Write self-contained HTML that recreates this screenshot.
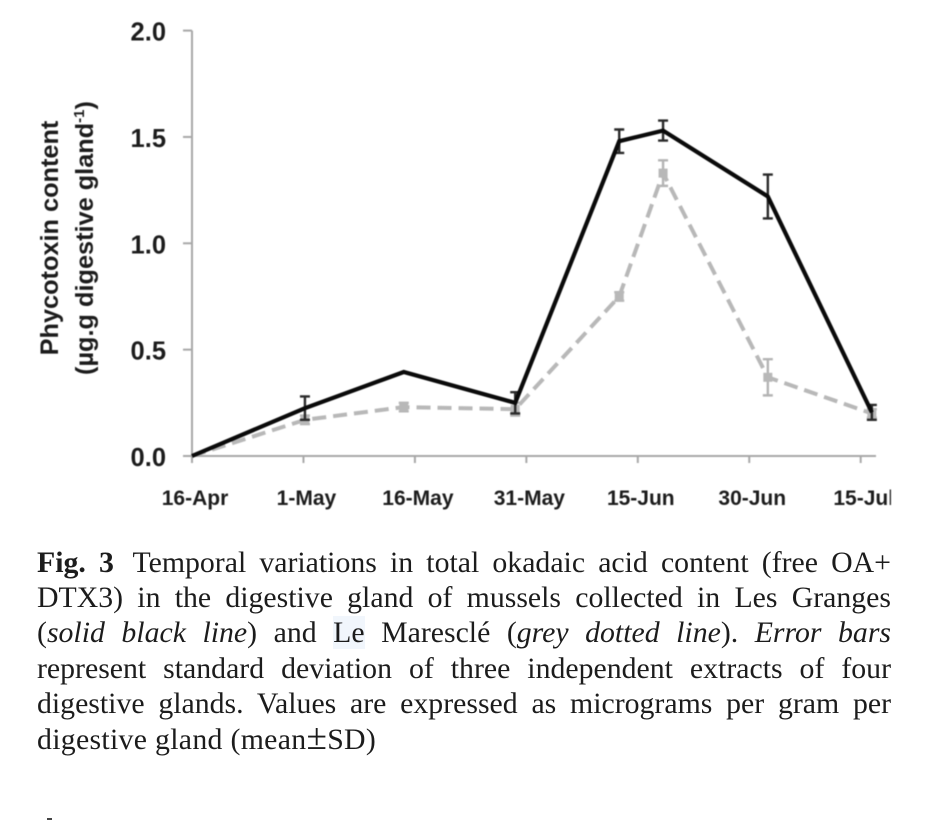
<!DOCTYPE html>
<html lang="en">
<head>
<meta charset="utf-8">
<title>Fig. 3 Phycotoxin content</title>
<style>
html,body{margin:0;padding:0;background:#fff;}
#page{position:relative;width:944px;height:820px;overflow:hidden;background:#fff;}
#chart{position:absolute;left:0;top:0;filter:blur(.45px);}
#chart text{font-family:"Liberation Sans",sans-serif;font-weight:bold;fill:#1c1c1c;}
.line{position:absolute;left:37px;width:854px;height:36px;line-height:36px;font-family:"Liberation Serif",serif;font-size:29.8px;color:#1c1c1c;text-align:justify;text-align-last:justify;white-space:nowrap;filter:blur(.3px);}
.last{text-align-last:left;letter-spacing:.3px;}
.hl{background:#f1f6fc;}
.pm{font-size:1.25em;line-height:1;}
.fig{margin-right:6px;}
#fragment{position:absolute;left:47px;top:818px;width:5px;height:2px;background:#444;}
</style>
</head>
<body>
<div id="page">
<svg id="chart" width="891" height="530" viewBox="0 0 891 530" xmlns="http://www.w3.org/2000/svg"></svg>
<div>
<div class="line" style="top:545px"><b class="fig">Fig. 3</b> Temporal variations in total okadaic acid content (free OA+</div>
<div class="line" style="top:580px">DTX3) in the digestive gland of mussels collected in Les Granges</div>
<div class="line" style="top:615px">(<i>solid black line</i>) and <span class="hl">Le</span> Maresclé (<i>grey dotted line</i>). <i>Error bars</i></div>
<div class="line" style="top:651px">represent standard deviation of three independent extracts of four</div>
<div class="line" style="top:686px">digestive glands. Values are expressed as micrograms per gram per</div>
<div class="line last" style="top:719px">digestive gland (mean<span class="pm">±</span>SD)</div>
</div>
<div id="fragment"></div>
</div>
<script>
const yTicks = [0, 0.5, 1, 1.5, 2];
const yTickLabels = ["0.0", "0.5", "1.0", "1.5", "2.0"];
const xTicks = [0, 15, 30, 45, 60, 75, 90];
const xTickLabels = ["16-Apr", "1-May", "16-May", "31-May", "15-Jun", "30-Jun", "15-Jul"];
const sampleDays = [0, 15.2, 28.5, 43.5, 57.5, 63.4, 77.5, 91.5];
const blackValues = [0, 0.225, 0.395, 0.25, 1.48, 1.53, 1.22, 0.205];
const blackErrors = [0, 0.055, 0, 0.05, 0.055, 0.047, 0.103, 0.035];
const greyValues = [0, 0.17, 0.23, 0.22, 0.75, 1.33, 0.37, 0.2];
const greyErrors = [0, 0.02, 0.02, 0.03, 0.02, 0.06, 0.085, 0.02];

const svg = document.getElementById('chart');
const NS = 'http://www.w3.org/2000/svg';
const xScale = d => 192 + d * 7.43;
const yScale = v => 456 - v * 212.7;
function make(tag, props, parent) {
  const el = document.createElementNS(NS, tag);
  for (const k in props) el.setAttribute(k, props[k]);
  (parent || svg).appendChild(el);
  return el;
}
const AXIS = '#a8a8a8';

const yAxis = make('line', {x1: xScale(0), x2: xScale(0), y1: yScale(2), y2: yScale(0), stroke: AXIS, 'stroke-width': 2});


const xAxis = make('line', {x1: xScale(0), x2: 876, y1: yScale(0), y2: yScale(0), stroke: AXIS, 'stroke-width': 2});



yTicks.forEach((v, i) => {
  const t = make('line', {x1: xScale(0) - 9, x2: xScale(0), y1: yScale(v), y2: yScale(v), stroke: AXIS, 'stroke-width': 2});
  
  
  const l = make('text', {x: 166, y: yScale(v) + 10, 'text-anchor': 'end', 'font-size': 25.5});
  l.textContent = yTickLabels[i];
  
  
});
xTicks.forEach((d, i) => {
  const t = make('line', {x1: xScale(d), x2: xScale(d), y1: yScale(0), y2: yScale(0) + 7, stroke: AXIS, 'stroke-width': 2});
  
  
  const l = make('text', {x: xScale(d) + 3, y: 505, 'text-anchor': 'middle', 'font-size': 21});
  l.textContent = xTickLabels[i];
  
  
});

function drawErrors(values, errors, color, name) {
  values.forEach((v, i) => {
    if (!errors[i]) return;
    const x = xScale(sampleDays[i]);
    const d = `M${x - 5} ${yScale(v + errors[i])}H${x + 5}M${x} ${yScale(v + errors[i])}V${yScale(v - errors[i])}M${x - 5} ${yScale(v - errors[i])}H${x + 5}`;
    const e = make('path', {d: d, fill: 'none', stroke: color, 'stroke-width': 2.4});
    
    
  });
}
function points(values) {
  return values.map((v, i) => xScale(sampleDays[i]) + ',' + yScale(v)).join(' ');
}

drawErrors(greyValues, greyErrors, '#b4b4b4', 'grey-error-bar');
const greyLine = make('polyline', {points: points(greyValues), fill: 'none', stroke: '#b8b8b8', 'stroke-width': 4, 'stroke-dasharray': '14 7'});


greyValues.forEach((v, i) => {
  if (i === 0) return;
  const s = 4.5;
  const m = make('rect', {x: xScale(sampleDays[i]) - s, y: yScale(v) - s, width: 2 * s, height: 2 * s, fill: '#b8b8b8'});
  
  
});
drawErrors(blackValues, blackErrors, '#2a2a2a', 'black-error-bar');
const blackLine = make('polyline', {points: points(blackValues), fill: 'none', stroke: '#0a0a0a', 'stroke-width': 4.2, 'stroke-linejoin': 'miter'});



const t1 = make('text', {transform: 'translate(58,238) rotate(-90)', 'text-anchor': 'middle', 'font-size': 25.3});
t1.textContent = 'Phycotoxin content';


const t2 = make('text', {transform: 'translate(93,238) rotate(-90)', 'text-anchor': 'middle', 'font-size': 25.3});
t2.textContent = '(µg.g digestive gland';


const sup = make('tspan', {'font-size': 15, dy: -9}, t2);
sup.textContent = '-1';
const close = make('tspan', {dy: 9}, t2);
close.textContent = ')';
</script>
</body>
</html>
